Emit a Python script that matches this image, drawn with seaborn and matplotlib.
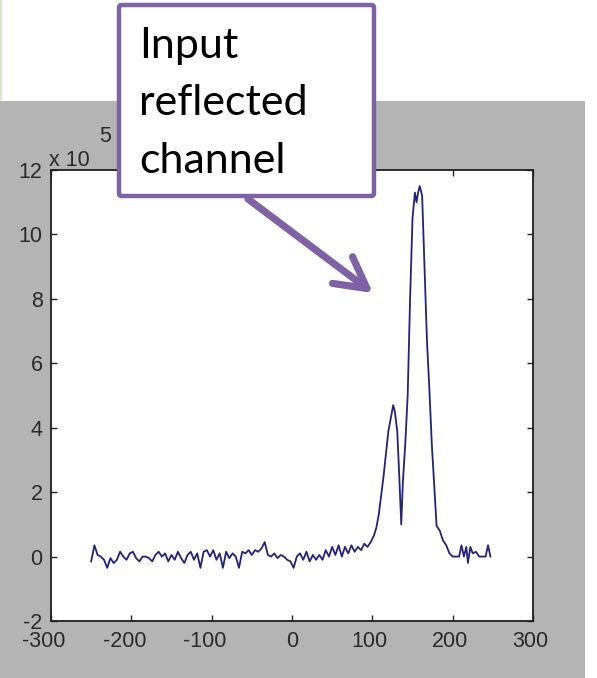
import numpy as np
import pandas as pd
import matplotlib
matplotlib.use("Agg")
import matplotlib.pyplot as plt
import matplotlib.transforms as mtransforms
from matplotlib.patches import Rectangle, FancyBboxPatch, FancyArrowPatch, ArrowStyle
import seaborn as sns

# ---------------- data (power in units of 1e5) ----------------
offset_base = [-250, -246, -242, -238, -234, -230, -226, -222, -218, -214,
               -210, -206, -202, -198, -194, -190, -186, -182, -178, -174,
               -170, -166, -162, -158, -154, -150, -146, -142, -138, -134,
               -130, -126, -122, -118, -114, -110, -106, -102, -98, -94,
               -90, -86, -82, -78, -74, -70, -66, -62, -58, -54,
               -50, -46, -42, -38, -34, -30, -26, -22, -18, -14,
               -10, -6, -2, 2, 6, 10, 14, 18, 22, 26,
               30, 34, 38, 42, 46, 50, 54, 58, 62, 66,
               70, 74, 78, 82, 86, 90, 94, 98]
power_base = [-0.15, 0.35, 0.05, 0.00, -0.10, -0.35, -0.05, -0.20, -0.10, 0.15,
              0.00, -0.10, 0.10, 0.15, -0.05, -0.15, 0.00, 0.00, -0.05, -0.15,
              0.05, 0.15, 0.00, 0.10, -0.15, 0.05, -0.10, 0.15, -0.05, -0.20,
              0.05, 0.15, -0.10, 0.10, -0.35, 0.15, 0.20, 0.00, 0.20, -0.10,
              0.10, -0.35, 0.15, -0.05, 0.10, 0.00, -0.35, 0.15, 0.10, 0.20,
              0.05, 0.20, 0.15, 0.25, 0.45, 0.05, 0.00, 0.10, -0.05, 0.05,
              0.00, -0.10, -0.15, -0.35, 0.00, 0.10, -0.10, 0.15, -0.15, 0.05,
              -0.10, 0.05, -0.10, 0.20, 0.00, 0.30, 0.05, 0.35, 0.00, 0.30,
              0.10, 0.35, 0.15, 0.30, 0.20, 0.40, 0.30, 0.45]
offset_peak = [102, 105, 108, 111, 114, 117, 120, 123, 126, 128,
               131, 133, 135, 136, 138, 141, 144, 147, 150, 153,
               155, 157, 159, 162, 165, 168, 171, 174, 177, 180,
               184, 188, 192, 196, 200, 204, 208, 211, 214, 217,
               219, 222, 225, 229, 233, 237, 241, 244, 247]
power_peak = [0.65, 0.9, 1.3, 1.9, 2.5, 3.2, 3.9, 4.3, 4.7, 4.5,
              3.9, 2.8, 1.6, 1.0, 2.3, 3.5, 5.0, 8.0, 10.5, 11.3,
              11.0, 11.3, 11.5, 11.2, 8.9, 6.7, 5.2, 3.5, 2.2, 0.95,
              0.8, 0.5, 0.35, 0.1, 0.0, 0.0, 0.0, 0.35, 0.0, 0.3,
              -0.2, 0.3, 0.1, 0.15, 0.0, 0.0, 0.0, 0.35, 0.0]

x_ticks = [-300, -200, -100, 0, 100, 200, 300]
y_ticks = [-2, 0, 2, 4, 6, 8, 10, 12]
callout_lines = ["Input", "reflected", "channel"]

df = pd.DataFrame({"offset": offset_base + offset_peak,
                   "power": power_base + power_peak})

# ---------------- figure ----------------
W, H = 597, 678
plt.rcParams["axes.unicode_minus"] = False
fig = plt.figure(figsize=(W / 100, H / 100), dpi=100, facecolor="white")

def fx(px):
    return px / W

def fy(py):
    return 1 - py / H

purple = "#7F62A6"
tick_font = 15.5

# gray slide background + faint green left rule
fig.patches.append(Rectangle((0, 0), fx(585), fy(101), transform=fig.transFigure,
                             facecolor="#b4b4b4", edgecolor="none", zorder=-5))
fig.patches.append(Rectangle((0, fy(101)), fx(2), 1 - fy(101), transform=fig.transFigure,
                             facecolor="#dbe8cc", edgecolor="none", zorder=-5))

ax = fig.add_axes([fx(51), fy(621), fx(533) - fx(51), fy(170) - fy(621)])
ax.set_facecolor("white")
sns.lineplot(data=df, x="offset", y="power", ax=ax, color="#22237a",
             linewidth=1.3, estimator=None, sort=False)
ax.set_xlim(-300, 300)
ax.set_ylim(-2, 12)
ax.set_xticks(x_ticks)
ax.set_yticks(y_ticks)
ax.set_xticklabels([str(t) for t in x_ticks])
ax.set_yticklabels([str(t) for t in y_ticks])
ax.set_xlabel("")
ax.set_ylabel("")
ax.tick_params(direction="in", top=True, right=True, length=4.5, width=1.0,
               color="#222222", labelsize=tick_font, labelcolor="#2a2a2a")
ax.tick_params(axis="x", pad=7.5)
ax.tick_params(axis="y", pad=6)
for lab in ax.get_xticklabels() + ax.get_yticklabels():
    lab.set_fontfamily("Liberation Sans")
# MATLAB-like horizontal placement of x labels
for t, lab in zip(x_ticks, ax.get_xticklabels()):
    dx = -7 if t < 0 else (-3 if t > 0 else 0)
    lab.set_transform(lab.get_transform() +
                      mtransforms.ScaledTranslation(dx / 100, 0, fig.dpi_scale_trans))
for s in ax.spines.values():
    s.set_linewidth(1.3)
    s.set_color("#1e1e1e")

# MATLAB-style exponent label
fig.text(fx(49), fy(166), "x 10", fontsize=tick_font, family="Liberation Sans",
         color="#2a2a2a", ha="left", va="baseline")
fig.text(fx(99), fy(142), "5", fontsize=tick_font, family="Liberation Sans",
         color="#2a2a2a", ha="left", va="baseline")

# callout box
box = FancyBboxPatch((fx(119), fy(196)), fx(374) - fx(119), fy(5) - fy(196),
                     boxstyle="round,pad=0,rounding_size=0.004",
                     transform=fig.transFigure, facecolor="white",
                     edgecolor=purple, linewidth=3.2, zorder=5)
fig.patches.append(box)
for line, base in zip(callout_lines, [58, 115, 173]):
    fig.text(fx(139), fy(base), line, fontsize=31, family=["Lato", "DejaVu Sans"],
             color="black", ha="left", va="baseline", zorder=6)

arrow = FancyArrowPatch((fx(248), fy(199)), (fx(373), fy(293)),
                        transform=fig.transFigure,
                        arrowstyle=ArrowStyle("->", head_length=1.1, head_width=0.6),
                        mutation_scale=20, linewidth=5.2, color=purple,
                        capstyle="round", joinstyle="round",
                        shrinkA=0, shrinkB=0, zorder=6)
fig.patches.append(arrow)

fig.savefig("out.png", dpi=100, facecolor="white")
